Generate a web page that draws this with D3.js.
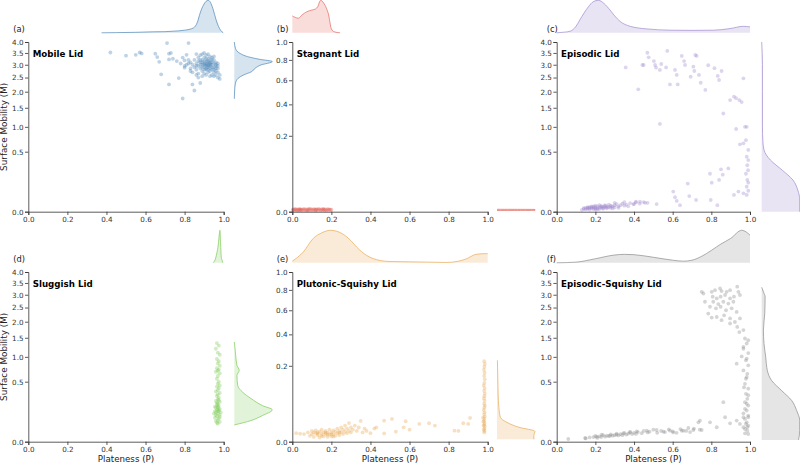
<!DOCTYPE html>
<html>
<head>
<meta charset="utf-8">
<script src="https://cdn.jsdelivr.net/npm/d3@7"></script>
<style>
  body { margin: 0; background: #fff; }
  svg { display: block; font-family: "DejaVu Sans", sans-serif; }
</style>
</head>
<body>
<div id="chart"></div>
<script>
// ---- data ----
const panelNames = ["Mobile Lid", "Stagnant Lid", "Episodic Lid", "Sluggish Lid", "Plutonic-Squishy Lid", "Episodic-Squishy Lid"];
const panelLetters = ["(a)", "(b)", "(c)", "(d)", "(e)", "(f)"];
const panelColors = ["#4682b4", "#e3625a", "#9d86cc", "#78c850", "#e9a54f", "#888888"];
const panelYMax = [4, 1, 4, 4, 1, 4];

const xTicks = [0, 0.2, 0.4, 0.6, 0.8, 1.0];
const wideYTicks = [0, 0.5, 1, 1.5, 2, 2.5, 3, 3.5, 4];
const narrowYTicks = [0, 0.2, 0.4, 0.6, 0.8, 1.0];
const xLabel = "Plateness (P)";
const yLabel = "Surface Mobility (M)";

// scatter points as [P, M]
const mobilePoints = [
  [0.42,3.52],[0.50,3.38],[0.55,3.42],[0.57,3.52],[0.58,3.48],[0.65,3.47],[0.66,3.32],[0.67,3.12],[0.68,2.62],
  [0.72,3.47],[0.73,3.5],[0.72,3.22],[0.72,2.25],[0.71,3.95],[0.74,3.25],[0.76,3.15],[0.77,2.48],[0.79,1.78],
  [0.78,3.05],[0.80,2.88],[0.81,3.42],[0.82,3.95],[0.83,2.75],[0.85,2.04],[0.84,2.25],[0.82,3.2],[0.8,3.18],
  [0.79,3.3],[0.86,3.45],[0.87,2.5],[0.88,2.3],
  [0.86,3.05],[0.87,2.95],[0.88,3.1],[0.88,2.85],[0.89,3.0],[0.89,3.2],[0.89,2.75],[0.90,3.05],[0.90,2.9],
  [0.90,3.3],[0.90,2.65],[0.91,3.0],[0.91,3.15],[0.91,2.8],[0.91,2.95],[0.92,3.1],[0.92,2.9],[0.92,3.0],
  [0.92,2.7],[0.92,3.25],[0.93,3.05],[0.93,2.85],[0.93,2.95],[0.93,3.2],[0.94,3.0],[0.94,2.8],[0.94,3.1],
  [0.94,2.6],[0.95,2.9],[0.95,3.05],[0.95,2.7],[0.96,2.85],[0.96,2.95],[0.96,2.6],[0.97,2.7],[0.97,2.5],
  [0.98,2.45],[0.85,3.2],[0.86,2.8],[0.87,3.3],[0.88,3.4],[0.89,3.45],[0.9,3.5],[0.91,3.4],[0.92,3.45],
  [0.93,3.35],[0.94,3.3],[0.95,3.2],[0.96,3.1],[0.97,2.95],[0.96,2.75],[0.95,2.55],[0.93,2.55],[0.91,2.6],
  [0.89,2.55],[0.87,2.65],[0.86,2.6],[0.85,2.9],[0.84,3.0],[0.83,3.1],[0.82,3.05],[0.88,3.0],[0.9,3.0],
  [0.91,3.05],[0.92,2.95],[0.93,3.0],[0.9,3.15],[0.92,3.15],[0.94,2.9],[0.89,2.9],[0.91,2.85],[0.93,2.75],
  [0.95,2.8],[0.9,2.8],[0.88,3.2],[0.92,2.8],[0.94,3.2],[0.96,3.0],[0.97,2.85],[0.98,2.6],[0.93,3.1],
  [0.91,3.25],[0.89,3.1],[0.87,3.15],[0.86,2.95],[0.97,3.05],[0.95,3.35],[0.84,2.7],[0.83,2.85],[0.81,3.0],[0.8,2.95]
];
const stagnantPoints = [
  [0.002,0.0001],[0.006,0.0002],[0.01,0.00008],[0.014,0.00025],[0.018,0.00012],[0.022,0.0002],[0.026,0.00006],
  [0.03,0.00018],[0.034,0.0001],[0.038,0.00028],[0.042,0.00015],[0.046,0.00008],[0.05,0.0002],[0.055,0.00012],
  [0.06,0.00025],[0.065,0.0001],[0.07,0.00018],[0.075,0.00007],[0.08,0.00022],[0.085,0.00013],[0.09,0.0003],
  [0.095,0.0001],[0.1,0.00019],[0.105,0.00009],[0.11,0.00024],[0.115,0.00014],[0.12,0.00006],[0.125,0.0002],
  [0.13,0.00011],[0.135,0.00027],[0.14,0.00016],[0.145,0.00008],[0.15,0.00021],[0.155,0.00012],[0.16,0.00026],
  [0.165,0.0001],[0.17,0.00018],[0.175,0.00007],[0.18,0.00023],[0.185,0.00013],[0.19,0.00019],[0.195,0.0001],
  [0.2,0.00016],[0.04,0.00012],[0.12,0.00017],[0.08,0.00009],[0.16,0.00015]
];
const episodicPoints = [
  [0.357,2.89],[0.443,2.99],[0.45,2.99],[0.469,3.51],[0.476,3.31],[0.503,3.15],[0.509,2.99],[0.514,2.88],
  [0.534,2.79],[0.541,3.03],[0.534,1.07],[0.422,2.08],[0.572,3.59],[0.566,2.89],[0.586,2.25],[0.612,2.79],
  [0.621,2.6],[0.626,2.25],[0.647,3.37],[0.659,3.15],[0.664,2.99],[0.693,2.53],[0.707,2.92],[0.712,2.75],
  [0.717,3.41],[0.724,3.37],[0.736,2.6],[0.745,2.31],[0.769,2.06],[0.784,2.98],[0.816,2.86],[0.833,2.56],
  [0.84,2.41],[0.853,2.75],[0.862,1.34],[0.897,1.73],[0.917,1.84],[0.928,1.79],[0.945,1.73],[0.957,1.67],
  [0.966,2.47],[0.928,0.95],[0.974,1.0],[0.983,1.0],[0.979,0.71],[0.966,0.65],[0.948,0.63],[0.991,0.53],
  [0.983,0.42],[0.991,0.37],[0.986,0.3],[0.99,0.24],[0.979,0.2],[0.986,0.14],[0.991,0.117],[0.983,0.087],
  [0.991,0.061],[0.983,0.039],[0.966,0.047],[0.94,0.056],[0.917,0.039],[0.888,0.26],[0.85,0.25],[0.859,0.19],
  [0.84,0.14],[0.802,0.117],[0.793,0.2],[0.797,0.019],[0.831,0.006],[0.721,0.019],[0.678,0.11],[0.686,0.034],
  [0.621,0.016],[0.603,0.056],[0.612,0.029],[0.638,0.006],[0.517,0.008],[0.457,0.011],[0.431,0.014],
  [0.41,0.014],[0.397,0.008],
  [0.13,0.0005],[0.14,0.001],[0.15,0.0008],[0.15,0.002],[0.16,0.0012],[0.16,0.003],[0.17,0.0006],[0.17,0.002],
  [0.18,0.0015],[0.18,0.004],[0.19,0.001],[0.19,0.0025],[0.2,0.0008],[0.2,0.003],[0.2,0.005],[0.21,0.0015],
  [0.21,0.004],[0.22,0.001],[0.22,0.0025],[0.22,0.006],[0.23,0.002],[0.23,0.0045],[0.24,0.0012],[0.24,0.0035],
  [0.25,0.0025],[0.25,0.006],[0.26,0.0015],[0.26,0.004],[0.27,0.003],[0.27,0.007],[0.28,0.002],[0.28,0.005],
  [0.29,0.004],[0.3,0.006],[0.3,0.0025],[0.31,0.008],[0.32,0.004],[0.33,0.006],[0.34,0.009],[0.35,0.005],
  [0.36,0.007],[0.38,0.01],[0.37,0.004],[0.4,0.008],[0.41,0.012],[0.43,0.009],[0.45,0.013],[0.47,0.011],
  [0.2,0.0015],[0.18,0.0025],[0.24,0.002],[0.19,0.004],[0.21,0.0008],[0.23,0.0035],[0.17,0.003],[0.26,0.0025],
  [0.29,0.0015],[0.16,0.002],[0.14,0.0018],[0.25,0.0045],[0.28,0.0035],[0.32,0.002],[0.35,0.0125],[0.3,0.011]
];
const sluggishPoints = [
  [0.965,1.35],[0.975,1.28],[0.96,1.2],[0.97,1.1],[0.98,1.05],[0.965,0.95],[0.975,0.9],[0.97,0.85],[0.98,0.8],
  [0.965,0.75],[0.975,0.72],[0.97,0.7],[0.96,0.68],[0.98,0.65],[0.97,0.6],[0.965,0.55],[0.975,0.5],[0.97,0.47],
  [0.98,0.44],[0.965,0.42],[0.975,0.4],[0.97,0.37],[0.96,0.35],[0.98,0.33],[0.97,0.31],[0.965,0.29],[0.975,0.27],
  [0.97,0.25],[0.96,0.23],[0.98,0.22],[0.97,0.2],[0.965,0.19],[0.975,0.18],[0.955,0.17],[0.97,0.16],[0.98,0.15],
  [0.965,0.14],[0.975,0.13],[0.96,0.12],[0.97,0.11],[0.98,0.1],[0.965,0.09],[0.955,0.08],[0.975,0.075],
  [0.97,0.065],[0.96,0.06],[0.98,0.055],[0.965,0.05],[0.97,0.045],[0.975,0.14],[0.96,0.16],[0.955,0.13],
  [0.985,0.12],[0.97,0.17],[0.965,0.21],[0.975,0.24],[0.96,0.1],[0.98,0.085],[0.97,0.13],[0.95,0.11]
];
const plutonicPoints = [
  [0.982,0.225],[0.985,0.21],[0.983,0.195],[0.981,0.18],[0.984,0.165],[0.982,0.15],[0.985,0.135],[0.983,0.12],
  [0.98,0.11],[0.984,0.1],[0.982,0.09],[0.985,0.08],[0.983,0.072],[0.981,0.065],[0.984,0.058],[0.982,0.05],
  [0.985,0.045],[0.983,0.04],[0.98,0.035],[0.984,0.03],[0.982,0.026],[0.985,0.022],[0.983,0.018],[0.981,0.015],
  [0.984,0.012],[0.982,0.01],[0.985,0.008],[0.983,0.006],[0.98,0.005],[0.984,0.004],[0.982,0.003],[0.978,0.014],
  [0.976,0.02],[0.979,0.009],
  [0.02,0.0025],[0.04,0.0022],[0.06,0.002],[0.08,0.003],[0.09,0.0012],[0.1,0.002],[0.1,0.004],[0.11,0.0008],
  [0.12,0.0025],[0.12,0.0045],[0.13,0.0015],[0.13,0.003],[0.14,0.0006],[0.14,0.0035],[0.15,0.002],[0.15,0.005],
  [0.16,0.001],[0.16,0.003],[0.17,0.002],[0.17,0.004],[0.18,0.0008],[0.18,0.0028],[0.19,0.0018],[0.19,0.005],
  [0.2,0.001],[0.2,0.003],[0.21,0.002],[0.21,0.0045],[0.22,0.0012],[0.22,0.0035],[0.23,0.0025],[0.23,0.006],
  [0.24,0.0015],[0.24,0.004],[0.25,0.003],[0.25,0.007],[0.26,0.002],[0.26,0.005],[0.27,0.0035],[0.27,0.009],
  [0.28,0.0025],[0.28,0.006],[0.29,0.004],[0.29,0.012],[0.3,0.003],[0.3,0.007],[0.31,0.005],[0.32,0.009],
  [0.33,0.004],[0.34,0.007],[0.35,0.015],[0.36,0.003],[0.37,0.006],[0.38,0.004],[0.4,0.0025],[0.42,0.006],
  [0.43,0.0072],[0.47,0.0154],[0.47,0.0024],[0.51,0.018],[0.53,0.0035],[0.57,0.0072],[0.58,0.0145],[0.6,0.005],
  [0.65,0.011],[0.7,0.0118],[0.73,0.009],[0.83,0.0042],[0.85,0.004],[0.875,0.0118],[0.9,0.011],[0.91,0.0196],
  [0.15,0.0012],[0.18,0.0018],[0.21,0.0009],[0.11,0.003],[0.24,0.0028],[0.2,0.002],[0.17,0.0028],[0.13,0.0022]
];
const squishyPoints = [
  [0.75,3.12],[0.759,3.05],[0.802,3.12],[0.819,3.19],[0.845,3.26],[0.853,3.15],[0.879,3.12],[0.897,3.19],
  [0.934,3.34],[0.94,3.12],[0.807,2.92],[0.828,2.85],[0.848,2.92],[0.871,2.99],[0.897,2.85],[0.917,2.92],
  [0.948,2.99],[0.81,2.72],[0.836,2.63],[0.862,2.72],[0.888,2.65],[0.914,2.72],[0.793,2.53],[0.824,2.47],
  [0.848,2.53],[0.876,2.4],[0.905,2.47],[0.931,2.34],[0.784,2.28],[0.828,2.16],[0.866,2.22],[0.897,2.11],
  [0.853,2.05],[0.922,1.99],[0.948,2.11],[0.934,1.83],[0.966,1.73],[0.945,1.67],[0.897,1.94],[0.802,2.14],
  [0.767,2.72],
  [0.974,1.48],[0.983,1.34],[0.966,1.2],[0.991,1.09],[0.957,1.01],[0.979,0.92],[0.931,0.845],[0.991,0.81],
  [0.966,0.706],[0.983,0.58],[0.974,0.466],[0.991,0.39],[0.979,0.318],[0.986,0.255],[0.974,0.217],[0.991,0.181],
  [0.983,0.135],[0.966,0.112],[0.991,0.095],[0.974,0.072],[0.983,0.052],[0.991,0.036],[0.966,0.029],[0.986,0.017],
  [0.974,0.0097],[0.931,0.062],[0.897,0.047],[0.871,0.083],[0.862,0.217],[0.828,0.029],[0.793,0.052],[0.741,0.062],
  [0.75,0.019],[0.681,0.026],[0.647,0.017],[0.603,0.012],[0.979,0.55],[0.986,0.64],[0.969,0.41],[0.991,0.3],
  [0.983,0.2],[0.974,0.15],[0.991,0.083],[0.979,0.044],[0.986,0.029],[0.966,0.083],[0.948,0.044],[0.974,0.022],
  [0.991,0.0082],[0.983,0.96],[0.966,1.25],[0.991,1.43],
  [0.06,0.001],[0.147,0.0019],[0.207,0.0035],[0.233,0.0069],[0.276,0.005],[0.31,0.0069],[0.345,0.0097],
  [0.379,0.012],[0.414,0.015],[0.466,0.017],[0.517,0.019],[0.552,0.014],[0.586,0.017],[0.655,0.017],[0.707,0.019],
  [0.733,0.052],[0.15,0.0015],[0.17,0.0025],[0.19,0.003],[0.2,0.0045],[0.21,0.002],[0.22,0.004],[0.23,0.003],
  [0.24,0.006],[0.25,0.0035],[0.26,0.005],[0.27,0.0042],[0.28,0.0075],[0.29,0.005],[0.3,0.006],[0.31,0.009],
  [0.32,0.0055],[0.33,0.008],[0.34,0.006],[0.35,0.011],[0.36,0.007],[0.37,0.009],[0.38,0.0135],[0.39,0.008],
  [0.4,0.011],[0.41,0.0085],[0.42,0.013],[0.44,0.01],[0.45,0.016],[0.47,0.012],[0.48,0.014],[0.5,0.02],
  [0.52,0.011],[0.54,0.016],[0.56,0.013],[0.58,0.021],[0.6,0.015],[0.62,0.011],[0.64,0.022],[0.67,0.016],
  [0.69,0.013],[0.71,0.024],[0.74,0.02]
];

// marginal densities (relative to each curve's peak): top = [P, d], right = [M, d]
const mobileTopKde = [[0.375,0],[0.45,0.005],[0.55,0.015],[0.64,0.03],[0.7,0.035],[0.742,0.05],[0.8,0.08],[0.845,0.15],[0.865,0.32],[0.879,0.6],[0.896,0.85],[0.91,0.97],[0.921,1.0],[0.935,0.9],[0.947,0.7],[0.96,0.42],[0.973,0.2],[0.985,0.07],[0.998,0]];
const mobileRightKde = [[1.77,0],[2.06,0.01],[2.29,0.03],[2.47,0.1],[2.6,0.25],[2.72,0.45],[2.86,0.55],[2.99,0.7],[3.13,1.0],[3.23,0.65],[3.34,0.35],[3.48,0.15],[3.71,0.03],[4.0,0]];
const stagnantTopKde = [[0,0.52],[0.031,0.45],[0.05,0.55],[0.075,0.65],[0.1,0.7],[0.118,0.73],[0.13,0.8],[0.145,1.0],[0.16,0.92],[0.175,0.75],[0.184,0.6],[0.2,0.12],[0.215,0.03],[0.244,0]];
const stagnantRightKde = [[0.00005,0],[0.00006,1.0],[0.00018,1.0],[0.0002,0]];
const episodicTopKde = [[0,0],[0.04,0.02],[0.07,0.05],[0.1,0.2],[0.12,0.4],[0.164,0.8],[0.19,0.96],[0.216,1.0],[0.245,0.9],[0.276,0.7],[0.3,0.52],[0.328,0.35],[0.38,0.2],[0.42,0.15],[0.466,0.12],[0.586,0.08],[0.7,0.075],[0.81,0.08],[0.897,0.13],[0.966,0.2],[1.0,0.18]];
const episodicRightKde = [[0,1.0],[0.019,1.0],[0.065,0.95],[0.14,0.82],[0.24,0.54],[0.37,0.23],[0.53,0.06],[0.7,0.03],[1.0,0.02],[2.0,0.02],[3.0,0.02],[4.0,0]];
const sluggishTopKde = [[0.945,0],[0.955,0.08],[0.965,0.3],[0.972,0.55],[0.978,0.9],[0.981,1.0],[0.984,0.6],[0.988,0.15],[0.992,0.08],[0.995,0]];
const sluggishRightKde = [[0.039,0],[0.062,0.44],[0.095,0.74],[0.141,1.0],[0.181,0.74],[0.259,0.44],[0.34,0.22],[0.44,0.09],[0.61,0.07],[0.706,0.13],[0.81,0.07],[1.0,0.04],[1.2,0.02],[1.38,0]];
const plutonicTopKde = [[0,0.05],[0.056,0.33],[0.107,0.75],[0.15,0.92],[0.196,1.0],[0.26,0.88],[0.3,0.68],[0.33,0.48],[0.38,0.23],[0.45,0.07],[0.5,0.04],[0.6,0.03],[0.7,0.02],[0.79,0.01],[0.85,0.05],[0.89,0.12],[0.94,0.26],[0.98,0.28],[1.0,0.28]];
const plutonicRightKde = [[0.0002,0.97],[0.0013,0.97],[0.0037,1.0],[0.0072,0.58],[0.013,0.26],[0.0207,0.09],[0.04,0.05],[0.08,0.03],[0.15,0.02],[0.23,0.01]];
const squishyTopKde = [[0,0],[0.1,0.02],[0.2,0.125],[0.3,0.24],[0.35,0.26],[0.4,0.25],[0.5,0.17],[0.6,0.08],[0.655,0.05],[0.7,0.08],[0.75,0.2],[0.8,0.38],[0.85,0.58],[0.9,0.75],[0.957,1.0],[0.98,0.95],[1.0,0.85]];
const squishyRightKde = [[0.0004,0.97],[0.017,1.0],[0.062,1.0],[0.135,0.92],[0.235,0.79],[0.36,0.53],[0.52,0.26],[0.7,0.15],[1.0,0.105],[1.34,0.06],[1.73,0.045],[2.28,0.08],[2.92,0.09],[3.1,0.05],[3.31,0]];

const panelPoints = [mobilePoints, stagnantPoints, episodicPoints, sluggishPoints, plutonicPoints, squishyPoints];
const panelTopKde = [mobileTopKde, stagnantTopKde, episodicTopKde, sluggishTopKde, plutonicTopKde, squishyTopKde];
const panelRightKde = [mobileRightKde, stagnantRightKde, episodicRightKde, sluggishRightKde, plutonicRightKde, squishyRightKde];

// ---- layout ----
const width = 800, height = 465;
const colX = [28.3, 292.3, 556.7];
const colW = [195.4, 195.4, 193.3];
const rowY = [42, 272];
const plotH = 169.7;
const letterX = [13.3, 276.7, 546.7];
const rightGap = [10.6, 9.3, 11.7];
const topGap = 9.2, topH = 32.5, rightW = 38;
const axisColor = "#333";

const svg = d3.select("#chart").append("svg")
  .attr("width", width)
  .attr("height", height);

panelNames.forEach((name, i) => {
  const col = i % 3, row = Math.floor(i / 3);
  const x0 = colX[col], y0 = rowY[row];
  const color = panelColors[i];
  const yMax = panelYMax[i];

  const x = d3.scaleLinear().domain([0, 1]).range([x0, x0 + colW[col]]);
  const y = d3.scaleSqrt().domain([0, yMax]).range([y0 + plotH, y0]);

  const g = svg.append("g").attr("class", "panel");

  // top marginal density
  const topBase = y0 - topGap;
  const dTop = d3.scaleLinear().domain([0, 1]).range([topBase, topBase - topH]);
  g.append("path")
    .datum(panelTopKde[i])
    .attr("d", d3.area().x(d => x(d[0])).y0(topBase).y1(d => dTop(d[1])).curve(d3.curveMonotoneX))
    .attr("fill", color).attr("fill-opacity", 0.22).attr("stroke", "none");
  g.append("path")
    .datum(panelTopKde[i])
    .attr("d", d3.line().x(d => x(d[0])).y(d => dTop(d[1])).curve(d3.curveMonotoneX))
    .attr("fill", "none").attr("stroke", color).attr("stroke-opacity", 0.75).attr("stroke-width", 0.9);

  // right marginal density
  const rightBase = x0 + colW[col] + rightGap[col];
  const dRight = d3.scaleLinear().domain([0, 1]).range([rightBase, rightBase + rightW]);
  g.append("path")
    .datum(panelRightKde[i])
    .attr("d", d3.area().y(d => y(d[0])).x0(rightBase).x1(d => dRight(d[1])).curve(d3.curveMonotoneY))
    .attr("fill", color).attr("fill-opacity", 0.22).attr("stroke", "none");
  g.append("path")
    .datum(panelRightKde[i])
    .attr("d", d3.line().y(d => y(d[0])).x(d => dRight(d[1])).curve(d3.curveMonotoneY))
    .attr("fill", "none").attr("stroke", color).attr("stroke-opacity", 0.75).attr("stroke-width", 0.9);

  // scatter
  g.append("g").selectAll("circle")
    .data(panelPoints[i])
    .join("circle")
      .attr("cx", d => x(d[0]))
      .attr("cy", d => y(d[1]))
      .attr("r", 1.9)
      .attr("fill", color)
      .attr("fill-opacity", 0.35);

  // axes
  const xAxis = g.append("g")
    .attr("transform", `translate(0,${y0 + plotH})`)
    .call(d3.axisBottom(x).tickValues(xTicks).tickFormat(d3.format(".1f")).tickSizeOuter(0).tickSize(3.3).tickPadding(1.6));
  const yAxis = g.append("g")
    .attr("transform", `translate(${x0},0)`)
    .call(d3.axisLeft(y).tickValues(yMax === 4 ? wideYTicks : narrowYTicks).tickFormat(d3.format(".1f")).tickSizeOuter(0).tickSize(3.3).tickPadding(1.5));
  [xAxis, yAxis].forEach(ax => {
    ax.select(".domain").attr("stroke", axisColor).attr("stroke-width", 0.8);
    ax.selectAll(".tick line").attr("stroke", axisColor).attr("stroke-width", 0.8);
    ax.selectAll(".tick text").attr("fill", axisColor).style("font-size", "7.2px").style("font-family", "DejaVu Sans");
  });

  // panel letter and title
  g.append("text")
    .attr("x", letterX[col]).attr("y", y0 - 10.5)
    .attr("fill", "#222").style("font-size", "8.3px")
    .text(panelLetters[i]);
  g.append("text")
    .attr("x", x0 + 4.4).attr("y", y0 + 14.5)
    .attr("fill", "#000").style("font-size", "8.7px").style("font-weight", "bold")
    .text(name);

  if (col === 0) {
    g.append("text")
      .attr("transform", `translate(6.8,${y0 + plotH / 2}) rotate(-90)`)
      .attr("text-anchor", "middle")
      .attr("fill", "#222").style("font-size", "8.8px")
      .text(yLabel);
  }
  if (row === 1) {
    g.append("text")
      .attr("x", x0 + colW[col] / 2).attr("y", 461.5)
      .attr("text-anchor", "middle")
      .attr("fill", "#222").style("font-size", "8.7px")
      .text(xLabel);
  }
});
</script>
</body>
</html>
